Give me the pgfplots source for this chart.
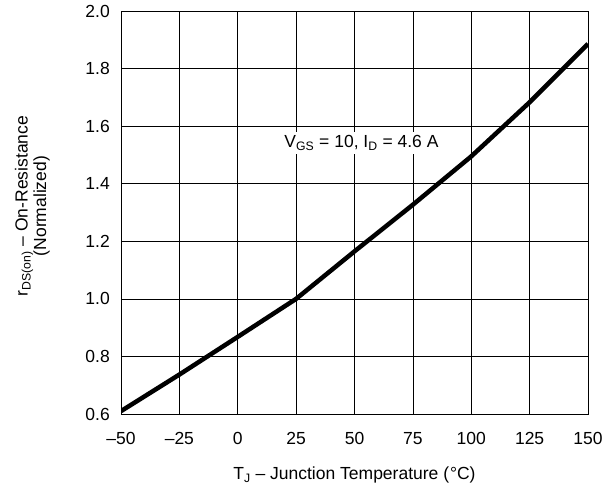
\documentclass[border=0pt]{standalone}
\usepackage{fontspec}
\setmainfont{Liberation Sans}
\usepackage{pgfplots}
\pgfplotsset{compat=1.18}
\begin{document}
\fontsize{17.5}{18.5}\selectfont
\begin{tikzpicture}
\begin{axis}[
  scale only axis,
  width=467pt, height=403pt,
  xmin=-50, xmax=150, ymin=0.6, ymax=2.0,
  xtick={-50,-25,0,25,50,75,100,125,150},
  xticklabels={--50,--25,0,25,50,75,100,125,150},
  ytick={0.6,0.8,1.0,1.2,1.4,1.6,1.8,2.0},
  yticklabels={0.6,0.8,1.0,1.2,1.4,1.6,1.8,2.0},
  grid=major,
  major grid style={black, line width=0.7pt},
  axis line style={black, line width=0.7pt},
  tick style={draw=none},
  x tick label style={inner ysep=0pt, yshift=-18pt},
  y tick label style={inner xsep=0pt, xshift=-11pt},
  xlabel={T\textsubscript{J} -- Junction Temperature (\kern1pt\textdegree C)},
  xlabel style={at={(axis description cs:0.5,0)}, anchor=north, inner sep=0pt, yshift=-53pt},
  ylabel={r\textsubscript{DS(on)} -- On-Resistance\\(Normalized)},
  ylabel style={at={(axis description cs:-0.152,0.516)}, anchor=south, inner sep=0pt, align=center},
  clip=true,
]
\addplot[black, line width=4.5pt, line join=round] coordinates {
  (-50,0.610) (-25,0.737) (0,0.868) (25,1.000) (50,1.165) (75,1.327) (100,1.495) (125,1.683) (150,1.886)
};
\node[anchor=base, fill=white, inner xsep=2pt, inner ysep=3.5pt] at (axis cs:53,1.525) {V\textsubscript{GS} = 10, I\textsubscript{D} = 4.6 A};
\end{axis}
\pgfresetboundingbox
\path ([shift={(-121pt,-78pt)}]current axis.south west) rectangle ([shift={(26pt,11pt)}]current axis.north east);
\end{tikzpicture}
\end{document}
